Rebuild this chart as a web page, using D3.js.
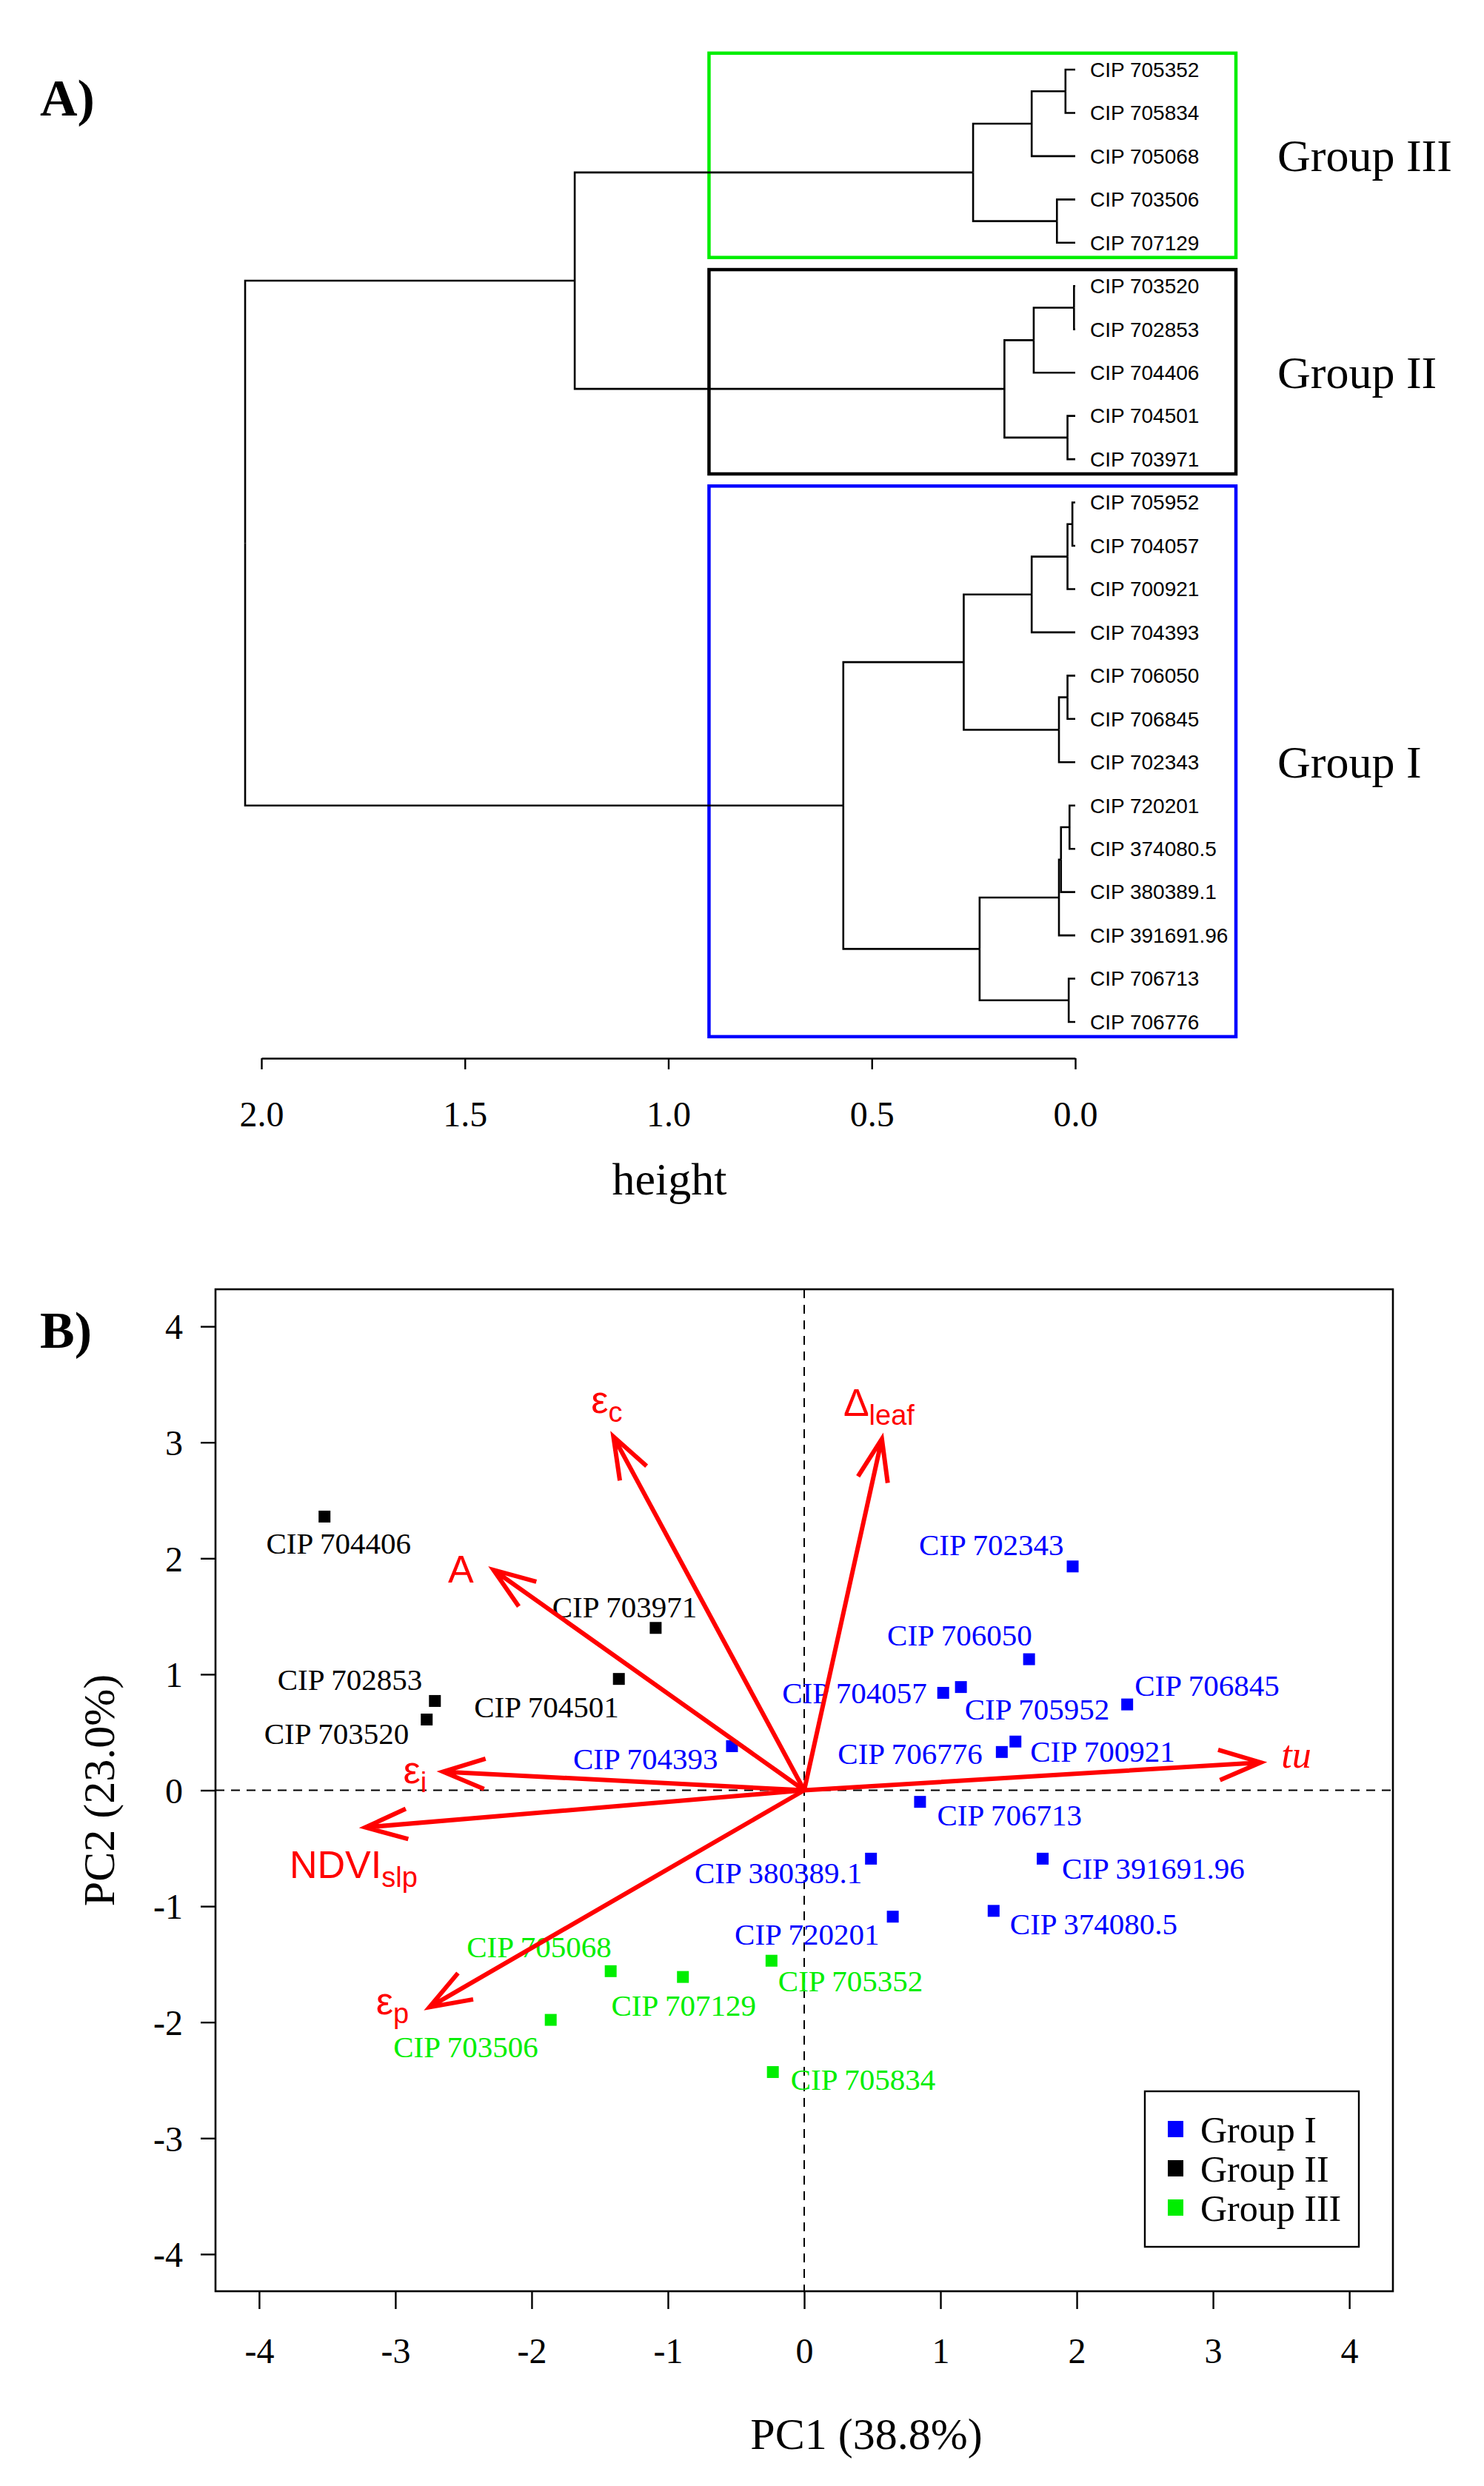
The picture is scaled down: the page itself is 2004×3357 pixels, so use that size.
<!DOCTYPE html>
<html>
<head>
<meta charset="utf-8">
<script src="https://cdn.jsdelivr.net/npm/d3@7"></script>
<style>
  body { margin: 0; background: #fff; }
  svg { display: block; }
  .serif { font-family: "Liberation Serif", "Times New Roman", serif; }
  .sans { font-family: "Liberation Sans", Arial, sans-serif; }
</style>
</head>
<body>
<svg id="fig" width="2004" height="3357"></svg>
<script>
// ---------- data: dendrogram ----------
const leaves = [
  'CIP 705352', 'CIP 705834', 'CIP 705068', 'CIP 703506', 'CIP 707129',
  'CIP 703520', 'CIP 702853', 'CIP 704406', 'CIP 704501', 'CIP 703971',
  'CIP 705952', 'CIP 704057', 'CIP 700921', 'CIP 704393', 'CIP 706050',
  'CIP 706845', 'CIP 702343', 'CIP 720201', 'CIP 374080.5', 'CIP 380389.1',
  'CIP 391691.96', 'CIP 706713', 'CIP 706776'
];
// id, left child, right child, merge height
const merges = [
  ['g3a', 'CIP 705352', 'CIP 705834', 0.024],
  ['g3b', 'g3a', 'CIP 705068', 0.107],
  ['g3c', 'CIP 703506', 'CIP 707129', 0.045],
  ['g3', 'g3b', 'g3c', 0.251],
  ['g2a', 'CIP 703520', 'CIP 702853', 0.003],
  ['g2b', 'g2a', 'CIP 704406', 0.102],
  ['g2c', 'CIP 704501', 'CIP 703971', 0.019],
  ['g2', 'g2b', 'g2c', 0.174],
  ['g23', 'g3', 'g2', 1.23],
  ['g1a', 'CIP 705952', 'CIP 704057', 0.007],
  ['g1b', 'g1a', 'CIP 700921', 0.019],
  ['g1c', 'g1b', 'CIP 704393', 0.107],
  ['g1d', 'CIP 706050', 'CIP 706845', 0.019],
  ['g1e', 'g1d', 'CIP 702343', 0.040],
  ['g1f', 'g1c', 'g1e', 0.274],
  ['g1g', 'CIP 720201', 'CIP 374080.5', 0.014],
  ['g1h', 'g1g', 'CIP 380389.1', 0.035],
  ['g1i', 'g1h', 'CIP 391691.96', 0.040],
  ['g1j', 'CIP 706713', 'CIP 706776', 0.016],
  ['g1k', 'g1i', 'g1j', 0.235],
  ['g1', 'g1f', 'g1k', 0.57],
  ['root', 'g23', 'g1', 2.04]
];
const heightTicks = [2.0, 1.5, 1.0, 0.5, 0.0];
// cluster boxes: name, first leaf, last leaf
const clusters = [
  ['Group III', 'CIP 705352', 'CIP 707129'],
  ['Group II', 'CIP 703520', 'CIP 703971'],
  ['Group I', 'CIP 705952', 'CIP 706776']
];

// ---------- data: PCA ----------
const groups = ['Group I', 'Group II', 'Group III'];
const genotypes = [
  'CIP 704406', 'CIP 703971', 'CIP 704501', 'CIP 702853', 'CIP 703520',
  'CIP 702343', 'CIP 706050', 'CIP 704057', 'CIP 705952', 'CIP 706845',
  'CIP 706776', 'CIP 700921', 'CIP 704393', 'CIP 706713', 'CIP 380389.1',
  'CIP 391691.96', 'CIP 720201', 'CIP 374080.5',
  'CIP 705068', 'CIP 707129', 'CIP 705352', 'CIP 703506', 'CIP 705834'
];
const pc1 = [-3.52, -1.09, -1.36, -2.71, -2.77,
  1.97, 1.65, 1.02, 1.15, 2.37, 1.45, 1.55, -0.53, 0.85, 0.49, 1.75, 0.65, 1.39,
  -1.42, -0.89, -0.24, -1.86, -0.23];
const pc2 = [2.36, 1.40, 0.96, 0.77, 0.61,
  1.93, 1.13, 0.84, 0.89, 0.74, 0.33, 0.42, 0.38, -0.10, -0.59, -0.59, -1.09, -1.04,
  -1.56, -1.61, -1.47, -1.98, -2.43];
const genoGroup = ['Group II', 'Group II', 'Group II', 'Group II', 'Group II',
  'Group I', 'Group I', 'Group I', 'Group I', 'Group I', 'Group I', 'Group I',
  'Group I', 'Group I', 'Group I', 'Group I', 'Group I', 'Group I',
  'Group III', 'Group III', 'Group III', 'Group III', 'Group III'];

const variables = ['ec', 'dleaf', 'A', 'ei', 'ndvi', 'ep', 'tu'];
const loadPC1 = [-1.40, 0.57, -2.28, -2.65, -3.22, -2.75, 3.35];
const loadPC2 = [3.05, 3.03, 1.90, 0.16, -0.32, -1.87, 0.24];
const pcTicks = [-4, -3, -2, -1, 0, 1, 2, 3, 4];

// ---------- styles / layout ----------
const groupColor = d3.scaleOrdinal().domain(groups).range(['#0000ff', '#000000', '#00ee00']);

// label text with subscript + offset from arrow tip (px)
const varLabel = {
  ec:    { main: 'ε', sub: 'c', dx: -9, dy: -50 },
  dleaf: { main: 'Δ', sub: 'leaf', dx: -4, dy: -49 },
  A:     { main: 'A', sub: '', dx: -44, dy: -1 },
  ei:    { main: 'ε', sub: 'i', dx: -38, dy: -3 },
  ndvi:  { main: 'NDVI', sub: 'slp', dx: -16, dy: 50 },
  ep:    { main: 'ε', sub: 'p', dx: -50, dy: -9 },
  tu:    { main: 'tu', sub: '', dx: 48, dy: -11, italic: true }
};
// genotype label anchor + offset from its point (px)
const genoLabel = {
  'CIP 704406': ['middle', 19, 36], 'CIP 703971': ['middle', -42, -29],
  'CIP 704501': ['end', 0, 37], 'CIP 702853': ['end', -17, -29],
  'CIP 703520': ['end', -24, 19], 'CIP 702343': ['end', -12, -30],
  'CIP 706050': ['end', 4, -33], 'CIP 704057': ['end', -22, 0],
  'CIP 705952': ['start', 5, 30], 'CIP 706845': ['start', 10, -26],
  'CIP 706776': ['end', -26, 2], 'CIP 700921': ['start', 20, 13],
  'CIP 704393': ['end', -19, 17], 'CIP 706713': ['start', 23, 17],
  'CIP 380389.1': ['end', -12, 19], 'CIP 391691.96': ['start', 26, 13],
  'CIP 720201': ['end', -18, 23], 'CIP 374080.5': ['start', 22, 17],
  'CIP 705068': ['end', 1, -33], 'CIP 707129': ['middle', 1, 38],
  'CIP 705352': ['start', 9, 27], 'CIP 703506': ['end', -17, 36],
  'CIP 705834': ['start', 24, 10]
};

const svg = d3.select('#fig');
svg.append('rect').attr('width', 2004).attr('height', 3357).attr('fill', '#fff');

// =================== A) dendrogram ===================
const hx = d3.scaleLinear().domain([2, 0]).range([353, 1452]);
const ly = d3.scalePoint().domain(leaves).range([94, 1380]);
const step = ly.step();

const nodes = {};
leaves.forEach(n => { nodes[n] = { name: n, h: 0, y: ly(n) }; });
merges.forEach(([id, a, b, h]) => {
  nodes[id] = { name: id, h: h, children: [nodes[a], nodes[b]], y: (nodes[a].y + nodes[b].y) / 2 };
});
const tree = d3.hierarchy(nodes.root);

const dendro = svg.append('g');

// cluster boxes
clusters.forEach(([name, first, last]) => {
  const y0 = ly(first) - step * 0.38;
  const y1 = ly(last) + step * 0.34;
  dendro.append('rect')
    .attr('x', hx(0.9)).attr('y', y0)
    .attr('width', 1669 - hx(0.9)).attr('height', y1 - y0)
    .attr('fill', 'none')
    .attr('stroke', groupColor(name))
    .attr('stroke-width', 4.5);
  dendro.append('text')
    .attr('class', 'serif')
    .attr('x', 1725).attr('y', (y0 + y1) / 2)
    .attr('dy', '0.35em')
    .attr('font-size', 62)
    .text(name);
});

dendro.selectAll('path.link')
  .data(tree.links())
  .enter()
  .append('path')
  .attr('class', 'link')
  .attr('fill', 'none')
  .attr('stroke', '#000')
  .attr('stroke-width', 2.6)
  .attr('d', l => `M${hx(l.source.data.h)},${l.source.data.y}V${l.target.data.y}H${hx(l.target.data.h)}`);

dendro.selectAll('text.leaf')
  .data(leaves)
  .enter()
  .append('text')
  .attr('class', 'leaf sans')
  .attr('x', 1472)
  .attr('y', d => ly(d))
  .attr('dy', '0.35em')
  .attr('font-size', 28)
  .text(d => d);

const hAxis = dendro.append('g')
  .attr('transform', 'translate(0,1429)')
  .call(d3.axisBottom(hx).tickValues(heightTicks).tickFormat(d3.format('.1f')).tickSize(15).tickSizeOuter(0));
hAxis.select('.domain').attr('stroke-width', 2.4);
hAxis.selectAll('.tick line').attr('stroke-width', 2.4);
hAxis.selectAll('.tick text')
  .attr('class', 'serif')
  .attr('font-size', 48)
  .attr('fill', '#000')
  .attr('y', 75)
  .attr('dy', '0.35em');

svg.append('text')
  .attr('class', 'serif')
  .attr('x', 904).attr('y', 1591)
  .attr('dy', '0.35em')
  .attr('text-anchor', 'middle')
  .attr('font-size', 62)
  .text('height');

svg.append('text')
  .attr('class', 'serif')
  .attr('x', 54).attr('y', 131)
  .attr('dy', '0.35em')
  .attr('font-size', 70)
  .attr('font-weight', 'bold')
  .text('A)');

// =================== B) PCA biplot ===================
const box = { x0: 291, x1: 1881, y0: 1741, y1: 3094 };
const xs = d3.scaleLinear().domain([-4.32, 4.32]).range([box.x0, box.x1]);
const ys = d3.scaleLinear().domain([-4.32, 4.32]).range([box.y1, box.y0]);

const pca = svg.append('g');

// zero lines
pca.append('line')
  .attr('x1', xs(0)).attr('x2', xs(0)).attr('y1', box.y0).attr('y2', box.y1)
  .attr('stroke', '#000').attr('stroke-width', 2).attr('stroke-dasharray', '12,9');
pca.append('line')
  .attr('x1', box.x0).attr('x2', box.x1).attr('y1', ys(0)).attr('y2', ys(0))
  .attr('stroke', '#000').attr('stroke-width', 2).attr('stroke-dasharray', '12,9');

// axes
const fmt = d => String(d);
const xAxis = pca.append('g')
  .attr('transform', `translate(0,${box.y1})`)
  .call(d3.axisBottom(xs).tickValues(pcTicks).tickFormat(fmt).tickSize(24).tickSizeOuter(0));
const yAxis = pca.append('g')
  .attr('transform', `translate(${box.x0},0)`)
  .call(d3.axisLeft(ys).tickValues(pcTicks).tickFormat(fmt).tickSize(20).tickSizeOuter(0));
[xAxis, yAxis].forEach(a => {
  a.select('.domain').remove();
  a.selectAll('.tick line').attr('stroke-width', 2.4);
  a.selectAll('.tick text').attr('class', 'serif').attr('font-size', 48).attr('fill', '#000');
});
xAxis.selectAll('.tick text').attr('y', 80).attr('dy', '0.35em');
yAxis.selectAll('.tick text').attr('x', -44).attr('dy', '0.35em');

pca.append('rect')
  .attr('x', box.x0).attr('y', box.y0)
  .attr('width', box.x1 - box.x0).attr('height', box.y1 - box.y0)
  .attr('fill', 'none').attr('stroke', '#000').attr('stroke-width', 2.6);

// points
const pts = genotypes.map((g, i) => ({ name: g, x: pc1[i], y: pc2[i], group: genoGroup[i] }));
pca.selectAll('rect.pt')
  .data(pts)
  .enter()
  .append('rect')
  .attr('class', 'pt')
  .attr('x', d => xs(d.x) - 8).attr('y', d => ys(d.y) - 8)
  .attr('width', 16).attr('height', 16)
  .attr('fill', d => groupColor(d.group));

pca.selectAll('text.pt')
  .data(pts)
  .enter()
  .append('text')
  .attr('class', 'pt serif')
  .attr('x', d => xs(d.x) + genoLabel[d.name][1])
  .attr('y', d => ys(d.y) + genoLabel[d.name][2])
  .attr('dy', '0.35em')
  .attr('text-anchor', d => genoLabel[d.name][0])
  .attr('font-size', 41)
  .attr('fill', d => groupColor(d.group))
  .text(d => d.name);

// loading arrows
const arrows = variables.map((v, i) => ({ name: v, x: loadPC1[i], y: loadPC2[i] }));
const headLen = 60, headAng = 20 * Math.PI / 180;
const ag = pca.selectAll('g.arrow')
  .data(arrows)
  .enter()
  .append('g')
  .attr('class', 'arrow');
ag.append('path')
  .attr('fill', 'none')
  .attr('stroke', '#ff0000')
  .attr('stroke-width', 6)
  .attr('d', d => {
    const x0 = xs(0), y0 = ys(0), x1 = xs(d.x), y1 = ys(d.y);
    const a = Math.atan2(y0 - y1, x0 - x1);
    const b1 = [x1 + headLen * Math.cos(a + headAng), y1 + headLen * Math.sin(a + headAng)];
    const b2 = [x1 + headLen * Math.cos(a - headAng), y1 + headLen * Math.sin(a - headAng)];
    return `M${x0},${y0}L${x1},${y1}M${b1[0]},${b1[1]}L${x1},${y1}L${b2[0]},${b2[1]}`;
  });

const al = ag.append('text')
  .attr('class', d => varLabel[d.name].italic ? 'serif' : 'sans')
  .attr('x', d => xs(d.x) + varLabel[d.name].dx)
  .attr('y', d => ys(d.y) + varLabel[d.name].dy)
  .attr('dy', '0.35em')
  .attr('text-anchor', 'middle')
  .attr('fill', '#ff0000')
  .attr('font-size', 52)
  .attr('font-style', d => varLabel[d.name].italic ? 'italic' : null);
al.append('tspan').text(d => varLabel[d.name].main);
al.filter(d => varLabel[d.name].sub)
  .append('tspan')
  .attr('font-size', 38)
  .attr('dy', 12)
  .text(d => varLabel[d.name].sub);

// legend
const lg = pca.append('g');
lg.append('rect')
  .attr('x', 1546).attr('y', 2824).attr('width', 289).attr('height', 210)
  .attr('fill', '#fff').attr('stroke', '#000').attr('stroke-width', 2.4);
const legendY = d3.scalePoint().domain(groups).range([2875, 2981]);
lg.selectAll('rect.key')
  .data(groups)
  .enter()
  .append('rect')
  .attr('class', 'key')
  .attr('x', 1577).attr('y', d => legendY(d) - 11)
  .attr('width', 21).attr('height', 22)
  .attr('fill', d => groupColor(d));
lg.selectAll('text.key')
  .data(groups)
  .enter()
  .append('text')
  .attr('class', 'key serif')
  .attr('x', 1621).attr('y', d => legendY(d))
  .attr('dy', '0.35em')
  .attr('font-size', 50)
  .text(d => d);

// axis titles
svg.append('text')
  .attr('class', 'serif')
  .attr('x', 1170).attr('y', 3286)
  .attr('dy', '0.35em')
  .attr('text-anchor', 'middle')
  .attr('font-size', 60)
  .text('PC1 (38.8%)');
svg.append('text')
  .attr('class', 'serif')
  .attr('transform', `translate(133,${ys(0)}) rotate(-90)`)
  .attr('dy', '0.35em')
  .attr('text-anchor', 'middle')
  .attr('font-size', 60)
  .text('PC2 (23.0%)');

svg.append('text')
  .attr('class', 'serif')
  .attr('x', 54).attr('y', 1795)
  .attr('dy', '0.35em')
  .attr('font-size', 70)
  .attr('font-weight', 'bold')
  .text('B)');
</script>
</body>
</html>
